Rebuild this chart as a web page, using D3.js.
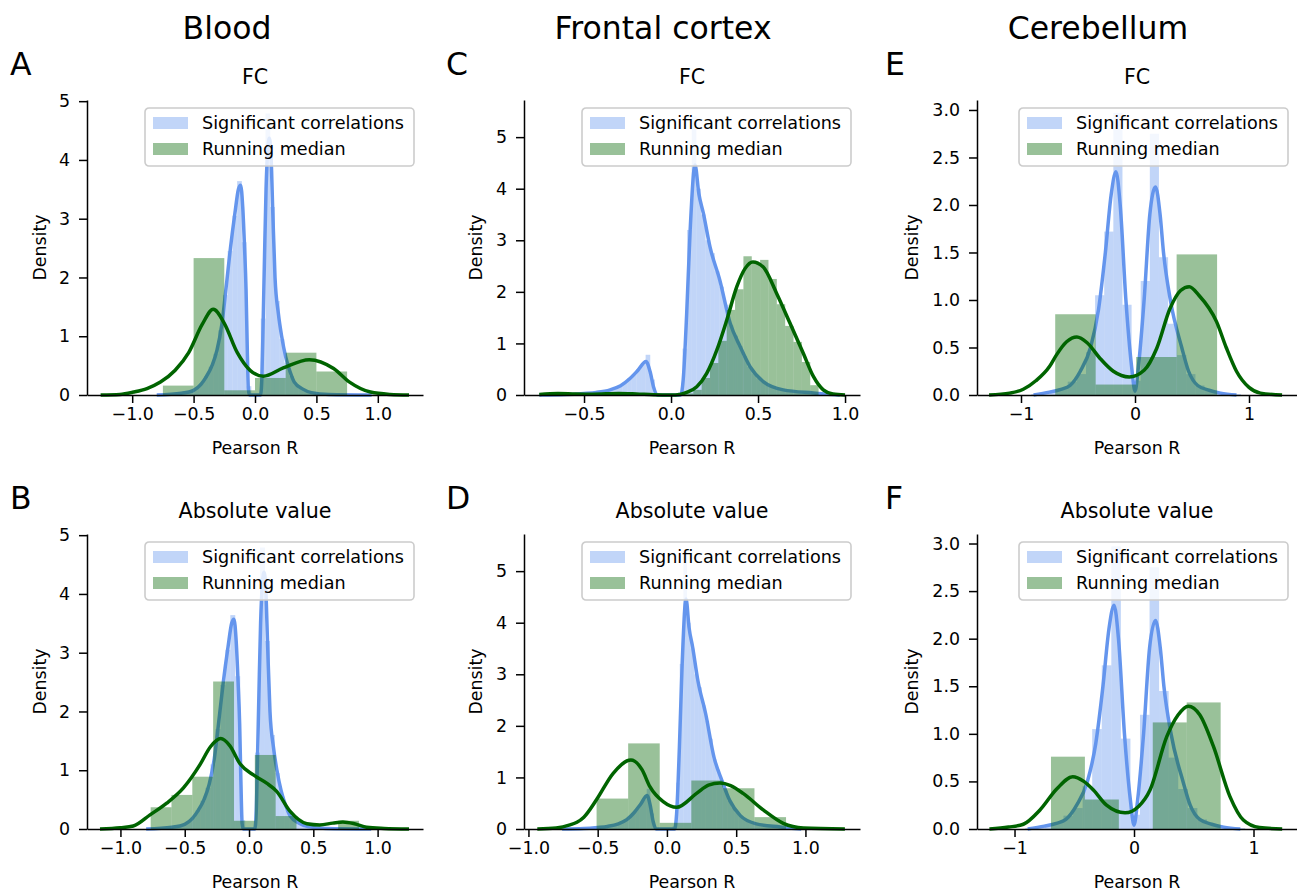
<!DOCTYPE html>
<html>
<head>
<meta charset="utf-8">
<script src="https://cdn.jsdelivr.net/npm/d3@7"></script>
<style>
body { margin: 0; background: #fff; }
text { font-family: "DejaVu Sans", sans-serif; fill: #000; }
</style>
</head>
<body>
<svg id="fig" width="1297" height="891"></svg>
<script>
// ---- data ----
// Blood: significant correlations (same in FC and absolute value panels)
var bloodBlueStart = -0.8, bloodBlueWidth = 0.0385;
var bloodBlueHeights = [0.01, 0.02, 0.02, 0.03, 0.03, 0.04, 0.05, 0.07, 0.12, 0.2,
  0.32, 0.48, 0.7, 1.1, 1.7, 2.45, 3.05, 3.64, 2.6, 0.15,
  0, 0, 1.3, 4.79, 3.2, 1.6, 0.95, 0.55, 0.32, 0.18,
  0.12, 0.07, 0.04, 0.03, 0.02, 0.02, 0.01, 0.01, 0.01, 0.01,
  0.01, 0.01, 0, 0.01, 0, 0.01];
var bloodBlueKde = [[-0.8, 0], [-0.6, 0.03], [-0.5, 0.08], [-0.44, 0.18], [-0.4, 0.3], [-0.35, 0.5],
  [-0.31, 0.76], [-0.27, 1.2], [-0.23, 1.93], [-0.2, 2.5], [-0.163, 3.1], [-0.135, 3.5], [-0.117, 3.57],
  [-0.1, 3.2], [-0.085, 2.5], [-0.073, 1.8], [-0.063, 0.8], [-0.054, 0.1], [-0.045, 0], [0.045, 0],
  [0.056, 0.3], [0.066, 1.2], [0.077, 2.3], [0.09, 3.5], [0.105, 4.2], [0.117, 4.37], [0.13, 4.1],
  [0.145, 3.1], [0.163, 2.0], [0.19, 1.39], [0.217, 1.0], [0.25, 0.65], [0.285, 0.4], [0.32, 0.22],
  [0.39, 0.1], [0.46, 0.04], [0.6, 0.01], [0.95, 0]];

// Blood: running median
var bloodFcGreenStart = -0.75, bloodFcGreenWidth = 0.25;
var bloodFcGreenHeights = [0.16, 2.33, 0.08, 0.29, 0.72, 0.40];
var bloodFcGreenKde = [[-1.257, 0], [-1.1, 0.01], [-0.99, 0.05], [-0.88, 0.11], [-0.77, 0.22], [-0.65, 0.42],
  [-0.54, 0.72], [-0.43, 1.2], [-0.34, 1.46], [-0.25, 1.22], [-0.144, 0.72], [-0.04, 0.42], [0.068, 0.32],
  [0.23, 0.46], [0.442, 0.6], [0.64, 0.45], [0.77, 0.22], [0.94, 0.05], [1.1, 0.01], [1.254, 0]];
var bloodAbsGreenStart = -0.765, bloodAbsGreenWidth = 0.162;
var bloodAbsGreenHeights = [0.37, 0.58, 0.89, 2.51, 0.14, 1.26, 0.22, 0, 0, 0.14];
var bloodAbsGreenKde = [[-1.159, 0], [-1.0, 0.02], [-0.9, 0.05], [-0.77, 0.24], [-0.64, 0.44], [-0.51, 0.7],
  [-0.38, 1.1], [-0.3, 1.4], [-0.22, 1.54], [-0.15, 1.42], [-0.07, 1.11], [0.034, 0.92], [0.137, 0.78],
  [0.215, 0.64], [0.32, 0.3], [0.45, 0.09], [0.55, 0.07], [0.65, 0.1], [0.73, 0.12], [0.82, 0.09],
  [0.915, 0.03], [1.05, 0.01], [1.244, 0]];

// Frontal cortex: significant correlations
var cortexBlueStart = -0.7555, cortexBlueWidth = 0.0265;
var cortexBlueHeights = [0.01, 0.01, 0.01, 0.01, 0.01, 0.02, 0.02, 0.02, 0.03, 0.03,
  0.04, 0.05, 0.06, 0.08, 0.09, 0.1, 0.14, 0.18, 0.24, 0.32,
  0.4, 0.5, 0.62, 0.78, 0.3, 0.02, 0, 0, 0, 0,
  0.05, 0.9, 3.2, 5.4, 4.0, 3.5, 3.0, 2.75, 2.4, 2.1,
  1.75, 1.35, 1.15, 0.95, 0.75, 0.55, 0.42, 0.32, 0.25, 0.2,
  0.15, 0.12, 0.1, 0.08, 0.07, 0.06, 0.05, 0.05, 0.04, 0.04,
  0.03, 0.02, 0.02, 0.01, 0.01, 0.01];
var cortexBlueKde = [[-0.757, 0], [-0.6, 0.01], [-0.5, 0.03], [-0.43, 0.05], [-0.35, 0.1], [-0.29, 0.18],
  [-0.236, 0.32], [-0.19, 0.48], [-0.144, 0.65], [-0.12, 0.45], [-0.1, 0.15], [-0.077, 0], [0.056, 0],
  [0.07, 0.3], [0.09, 1.58], [0.11, 3.2], [0.138, 4.46], [0.16, 3.9], [0.186, 3.52], [0.224, 2.87],
  [0.28, 2.23], [0.34, 1.39], [0.397, 0.94], [0.454, 0.55], [0.53, 0.26], [0.645, 0.1], [0.818, 0.04],
  [0.97, 0]];

// Frontal cortex: running median
var cortexFcGreenStart = -0.736, cortexFcGreenWidth = 0.048;
var cortexFcGreenHeights = [0.02, 0.04, 0.02, 0, 0.02, 0, 0, 0.02, 0.04, 0.04,
  0.02, 0, 0.02, 0.02, 0, 0, 0, 0.03, 0.1, 0.33,
  0.62, 1.05, 1.65, 2.05, 2.69, 2.55, 2.62, 2.25, 1.76, 1.34,
  1.03, 0.64, 0.19];
var cortexFcGreenKde = [[-0.757, 0.01], [-0.65, 0.03], [-0.55, 0.02], [-0.45, 0.015], [-0.3, 0.03],
  [-0.2, 0.02], [-0.1, 0.005], [0.0, 0], [0.05, 0.01], [0.09, 0.05], [0.148, 0.16], [0.205, 0.42],
  [0.263, 0.87], [0.32, 1.45], [0.378, 2.1], [0.425, 2.45], [0.47, 2.58], [0.53, 2.48], [0.607, 1.97],
  [0.684, 1.39], [0.76, 0.81], [0.818, 0.36], [0.875, 0.1], [0.93, 0.02], [1.0, 0]];
var cortexAbsGreenStart = -0.508, cortexAbsGreenWidth = 0.228;
var cortexAbsGreenHeights = [0.59, 1.66, 0.12, 0.94, 0.79, 0.23];
var cortexAbsGreenKde = [[-0.936, 0], [-0.8, 0.02], [-0.7, 0.08], [-0.65, 0.13], [-0.6, 0.23], [-0.508, 0.57],
  [-0.388, 1.08], [-0.26, 1.34], [-0.18, 1.15], [-0.123, 0.82], [-0.027, 0.53], [0.07, 0.42], [0.214, 0.69],
  [0.3, 0.85], [0.383, 0.89], [0.46, 0.84], [0.55, 0.69], [0.695, 0.37], [0.84, 0.11], [0.985, 0.02],
  [1.285, 0]];

// Cerebellum: significant correlations
var cerebBlueStart = -0.91, cerebBlueWidth = 0.08;
var cerebBlueHeights = [0.01, 0.02, 0.04, 0.07, 0.14, 0.22, 0.45, 1.05, 1.72, 2.97,
  0.95, 0.15, 1.2, 2.75, 1.45, 0.75, 0.42, 0.22, 0.1, 0.05,
  0.03, 0.02, 0.01];
var cerebBlueKde = [[-0.89, 0], [-0.75, 0.03], [-0.65, 0.06], [-0.57, 0.1], [-0.48, 0.25], [-0.39, 0.5],
  [-0.32, 0.9], [-0.26, 1.5], [-0.21, 2.1], [-0.167, 2.35], [-0.13, 2.0], [-0.08, 1.0], [-0.03, 0.3],
  [0.0, 0.04], [0.03, 0.3], [0.08, 1.0], [0.13, 1.9], [0.18, 2.19], [0.22, 1.9], [0.25, 1.5],
  [0.31, 1.0], [0.41, 0.5], [0.47, 0.25], [0.55, 0.1], [0.65, 0.05], [0.75, 0.02], [0.89, 0]];

// Cerebellum: running median
var cerebFcGreenStart = -0.70, cerebFcGreenWidth = 0.355;
var cerebFcGreenHeights = [0.85, 0.11, 0.40, 1.48];
var cerebFcGreenKde = [[-1.28, 0], [-1.1, 0.02], [-0.98, 0.06], [-0.87, 0.15], [-0.75, 0.3], [-0.69, 0.42],
  [-0.6, 0.56], [-0.51, 0.61], [-0.42, 0.55], [-0.31, 0.39], [-0.19, 0.25], [-0.05, 0.19], [0.08, 0.26],
  [0.19, 0.49], [0.307, 0.91], [0.4, 1.1], [0.476, 1.14], [0.56, 1.05], [0.716, 0.77], [0.8, 0.5],
  [0.89, 0.25], [1.0, 0.08], [1.1, 0.02], [1.29, 0]];
var cerebAbsGreenStart = -0.695, cerebAbsGreenWidth = 0.284;
var cerebAbsGreenHeights = [0.76, 0.31, 0, 1.12, 1.33];
var cerebAbsGreenKde = [[-1.21, 0], [-1.05, 0.02], [-0.926, 0.05], [-0.787, 0.2], [-0.647, 0.42],
  [-0.513, 0.55], [-0.42, 0.5], [-0.34, 0.41], [-0.23, 0.25], [-0.075, 0.17], [0.04, 0.24], [0.134, 0.41],
  [0.274, 0.97], [0.37, 1.2], [0.455, 1.29], [0.55, 1.2], [0.664, 0.87], [0.803, 0.34], [0.915, 0.094],
  [1.05, 0.015], [1.24, 0]];

var columnTitles = ["Blood", "Frontal cortex", "Cerebellum"];
var panelLetters = ["A", "B", "C", "D", "E", "F"];
var panelTitles = ["FC", "Absolute value"];
var legendLabels = ["Significant correlations", "Running median"];
var ticksHalf = [-1, -0.5, 0, 0.5, 1];
var ticksHalfC = [-0.5, 0, 0.5, 1];
var ticksUnit = [-1, 0, 1];
var yTicksInt = [0, 1, 2, 3, 4, 5];
var yTicksHalf = [0, 0.5, 1, 1.5, 2, 2.5, 3];

var blueCol = "#6495ED", greenCol = "#006400";
var fs = 17.4;

var svg = d3.select("#fig");

var panels = [
  {letter: "A", title: panelTitles[0], left: 87, right: 423, top: 100, bottom: 395, xDomain: [-1.368, 1.368], yMax: 5.02,
   xTicks: ticksHalf, xFmt: ".1f", yTicks: yTicksInt, yFmt: "d", dens: 47,
   blue: [bloodBlueStart, bloodBlueWidth, bloodBlueHeights], blueKde: bloodBlueKde,
   green: [bloodFcGreenStart, bloodFcGreenWidth, bloodFcGreenHeights], greenKde: bloodFcGreenKde},
  {letter: "B", title: panelTitles[1], left: 87, right: 423, top: 534, bottom: 829, xDomain: [-1.26, 1.353], yMax: 5.02,
   xTicks: ticksHalf, xFmt: ".1f", yTicks: yTicksInt, yFmt: "d", dens: 47,
   blue: [bloodBlueStart, bloodBlueWidth, bloodBlueHeights], blueKde: bloodBlueKde,
   green: [bloodAbsGreenStart, bloodAbsGreenWidth, bloodAbsGreenHeights], greenKde: bloodAbsGreenKde},
  {letter: "C", title: panelTitles[0], left: 524, right: 860, top: 100, bottom: 395, xDomain: [-0.845, 1.086], yMax: 5.72,
   xTicks: ticksHalfC, xFmt: ".1f", yTicks: yTicksInt, yFmt: "d", dens: 48,
   blue: [cortexBlueStart, cortexBlueWidth, cortexBlueHeights], blueKde: cortexBlueKde,
   green: [cortexFcGreenStart, cortexFcGreenWidth, cortexFcGreenHeights], greenKde: cortexFcGreenKde},
  {letter: "D", title: panelTitles[1], left: 524, right: 860, top: 534, bottom: 829, xDomain: [-1.032, 1.394], yMax: 5.72,
   xTicks: ticksHalf, xFmt: ".1f", yTicks: yTicksInt, yFmt: "d", dens: 48,
   blue: [cortexBlueStart, cortexBlueWidth, cortexBlueHeights], blueKde: cortexBlueKde,
   green: [cortexAbsGreenStart, cortexAbsGreenWidth, cortexAbsGreenHeights], greenKde: cortexAbsGreenKde},
  {letter: "E", title: panelTitles[0], left: 977, right: 1297, top: 100, bottom: 395, xDomain: [-1.386, 1.421], yMax: 3.105,
   xTicks: ticksUnit, xFmt: "d", yTicks: yTicksHalf, yFmt: ".1f", dens: 65,
   blue: [cerebBlueStart, cerebBlueWidth, cerebBlueHeights], blueKde: cerebBlueKde,
   green: [cerebFcGreenStart, cerebFcGreenWidth, cerebFcGreenHeights], greenKde: cerebFcGreenKde},
  {letter: "F", title: panelTitles[1], left: 977, right: 1297, top: 534, bottom: 829, xDomain: [-1.314, 1.364], yMax: 3.1,
   xTicks: ticksUnit, xFmt: "d", yTicks: yTicksHalf, yFmt: ".1f", dens: 65,
   blue: [cerebBlueStart, cerebBlueWidth, cerebBlueHeights], blueKde: cerebBlueKde,
   green: [cerebAbsGreenStart, cerebAbsGreenWidth, cerebAbsGreenHeights], greenKde: cerebAbsGreenKde}
];

function drawHist(g, x, y, h, color) {
  var start = h[0], w = h[1];
  g.append("g").selectAll("rect")
    .data(h[2])
    .enter().append("rect")
    .attr("x", function(d, i) { return x(start + i * w); })
    .attr("width", function(d, i) { return x(start + (i + 1) * w) - x(start + i * w); })
    .attr("y", function(d) { return y(d); })
    .attr("height", function(d) { return y(0) - y(d); })
    .style("fill", color)
    .style("fill-opacity", 0.4);
}

function drawKde(g, x, y, pts, color) {
  var line = d3.line()
    .x(function(d) { return x(d[0]); })
    .y(function(d) { return y(d[1]); })
    .curve(d3.curveMonotoneX);
  g.append("path")
    .attr("d", line(pts))
    .style("fill", "none")
    .style("stroke", color)
    .style("stroke-width", 3.5)
    .style("stroke-linejoin", "round");
}

panels.forEach(function(p) {
  var x = d3.scaleLinear().domain(p.xDomain).range([p.left, p.right]);
  var y = d3.scaleLinear().domain([0, p.yMax]).range([p.bottom, p.top]);
  var g = svg.append("g");

  drawHist(g, x, y, p.blue, blueCol);
  drawKde(g, x, y, p.blueKde, blueCol);
  drawHist(g, x, y, p.green, greenCol);
  drawKde(g, x, y, p.greenKde, greenCol);

  var xAxis = d3.axisBottom(x).tickValues(p.xTicks).tickFormat(d3.format(p.xFmt))
    .tickSize(8).tickSizeOuter(0).tickPadding(5);
  var yAxis = d3.axisLeft(y).tickValues(p.yTicks).tickFormat(d3.format(p.yFmt))
    .tickSize(8).tickSizeOuter(0).tickPadding(9);

  var gx = g.append("g").attr("transform", "translate(0," + p.bottom + ")").call(xAxis);
  var gy = g.append("g").attr("transform", "translate(" + p.left + ",0)").call(yAxis);
  [gx, gy].forEach(function(a) {
    a.selectAll("path, line").style("stroke", "#000").style("stroke-width", 1.5);
    a.selectAll("text").style("font-size", fs + "px").style("font-family", "DejaVu Sans");
  });

  // labels
  g.append("text").text("Pearson R")
    .attr("x", (p.left + p.right) / 2).attr("y", p.bottom + 59)
    .attr("text-anchor", "middle").style("font-size", fs + "px");
  g.append("text").text("Density")
    .attr("transform", "translate(" + (p.left - p.dens + 6) + "," + ((p.top + p.bottom) / 2) + ")rotate(-90)")
    .attr("text-anchor", "middle").style("font-size", fs + "px");
  g.append("text").text(p.title)
    .attr("x", (p.left + p.right) / 2).attr("y", p.top - 16)
    .attr("text-anchor", "middle").style("font-size", "20.6px");

  // legend
  var lx = p.right - 9 - 269, ly = p.top + 8;
  var lg = g.append("g").attr("transform", "translate(" + lx + "," + ly + ")");
  lg.append("rect").attr("width", 269).attr("height", 58).attr("rx", 4)
    .style("fill", "#fff").style("fill-opacity", 0.8)
    .style("stroke", "#cccccc").style("stroke-width", 1.6);
  [blueCol, greenCol].forEach(function(c, i) {
    lg.append("rect").attr("x", 8).attr("y", 9 + i * 26).attr("width", 35).attr("height", 12)
      .style("fill", c).style("fill-opacity", 0.4);
    lg.append("text").text(legendLabels[i])
      .attr("x", 57).attr("y", 21 + i * 26).style("font-size", "17.6px");
  });
});

// column titles and panel letters
var colCenters = [227, 663, 1098];
columnTitles.forEach(function(t, i) {
  svg.append("text").text(t).attr("x", colCenters[i]).attr("y", 39)
    .attr("text-anchor", "middle").style("font-size", "31.5px");
});
var letterX = [10, 10, 446, 446, 885, 885];
panelLetters.forEach(function(t, i) {
  svg.append("text").text(t).attr("x", letterX[i]).attr("y", i % 2 === 0 ? 75 : 509)
    .style("font-size", "31.5px");
});
</script>
</body>
</html>
